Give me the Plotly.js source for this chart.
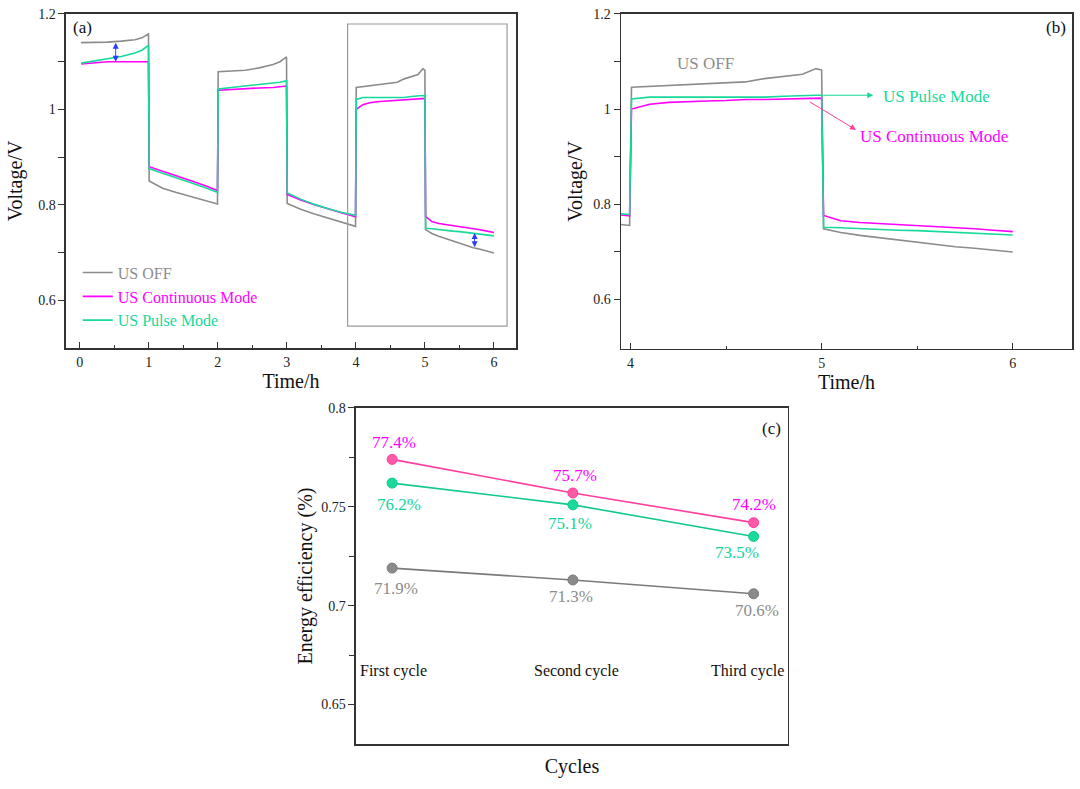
<!DOCTYPE html>
<html>
<head>
<meta charset="utf-8">
<script src="https://cdn.plot.ly/plotly-3.0.1.min.js"></script>
<style>
  html, body { margin: 0; padding: 0; background: #fff; }
  #chart { width: 1080px; height: 789px; }
</style>
</head>
<body>
<div id="chart"></div>
<script>
// voltage curves (a)/(b), hours
const time = [
  0.02, 0.2, 0.4, 0.6, 0.8, 0.9, 0.995,
  1.005, 1.2, 1.4, 1.6, 1.8, 1.995,
  2.005, 2.2, 2.4, 2.6, 2.8, 2.9, 2.995,
  3.005, 3.2, 3.4, 3.6, 3.8, 3.995,
  4.005, 4.1, 4.2, 4.3, 4.4, 4.5, 4.6, 4.7, 4.8, 4.9, 4.97, 5.0,
  5.01, 5.1, 5.2, 5.3, 5.4, 5.5, 5.6, 5.7, 5.8, 5.9, 6.0
];
const voltOff = [
  1.140, 1.140, 1.141, 1.143, 1.146, 1.150, 1.158,
  0.850, 0.835, 0.826, 0.818, 0.811, 0.802,
  1.079, 1.080, 1.082, 1.087, 1.094, 1.100, 1.110,
  0.803, 0.791, 0.781, 0.772, 0.764, 0.755,
  1.046, 1.048, 1.049, 1.052, 1.054, 1.056, 1.057, 1.064, 1.068, 1.073, 1.085, 1.082,
  0.748, 0.740, 0.734, 0.729, 0.724, 0.719, 0.714, 0.710, 0.707, 0.703, 0.699
];
const voltCont = [
  1.095, 1.098, 1.100, 1.100, 1.100, 1.099, 1.100,
  0.880, 0.870, 0.861, 0.851, 0.841, 0.830,
  1.040, 1.042, 1.044, 1.045, 1.046, 1.047, 1.049,
  0.822, 0.810, 0.800, 0.791, 0.783, 0.775,
  1.000, 1.010, 1.014, 1.016, 1.017, 1.018, 1.020, 1.020, 1.021, 1.022, 1.023, 1.023,
  0.776, 0.765, 0.761, 0.759, 0.757, 0.755, 0.752, 0.750, 0.748, 0.745, 0.742
];
const voltPulse = [
  1.097, 1.101, 1.106, 1.111, 1.118, 1.124, 1.134,
  0.876, 0.866, 0.857, 0.847, 0.837, 0.826,
  1.043, 1.046, 1.048, 1.051, 1.055, 1.057, 1.060,
  0.825, 0.812, 0.801, 0.792, 0.784, 0.778,
  1.021, 1.025, 1.025, 1.025, 1.025, 1.025, 1.025, 1.025, 1.027, 1.029, 1.029, 1.029,
  0.751, 0.750, 0.748, 0.747, 0.745, 0.744, 0.742, 0.740, 0.738, 0.736, 0.735
];
const seriesNames = ["US OFF", "US Continuous Mode", "US Pulse Mode"];

// energy efficiency, panel (c)
const cycles = ["First cycle", "Second cycle", "Third cycle"];
const effOff = [0.719, 0.713, 0.706];
const effCont = [0.774, 0.757, 0.742];
const effPulse = [0.762, 0.751, 0.735];

const FONT = "Liberation Serif, Times New Roman, serif";
const GRAY = "#8c8c8c";
const MAGENTA = "#ff00ff";
const GREEN = "#17d99b";
const PINK = "#ff3e9e";
const BLUE = "#2a3cff";
const AXIS = "#333333";

function voltTrace(y, name, color, xa, ya, showlegend) {
  return {
    x: time,
    y: y,
    type: "scatter",
    mode: "lines",
    name: '<span style="color:' + color + '">' + name + "</span>",
    line: { color: color, width: 1.6 },
    xaxis: xa,
    yaxis: ya,
    showlegend: showlegend,
    hoverinfo: "x+y",
  };
}

function effTrace(y, color, lineColor) {
  return {
    x: cycles,
    y: y,
    type: "scatter",
    mode: "lines+markers",
    line: { color: lineColor, width: 1.6 },
    marker: { color: color, size: 10, line: { color: lineColor, width: 1 } },
    xaxis: "x3",
    yaxis: "y3",
    showlegend: false,
  };
}

const data = [
  voltTrace(voltOff, seriesNames[0], GRAY, "x", "y", true),
  voltTrace(voltCont, seriesNames[1], MAGENTA, "x", "y", true),
  voltTrace(voltPulse, seriesNames[2], GREEN, "x", "y", true),
  voltTrace(voltOff, seriesNames[0], GRAY, "x2", "y2", false),
  voltTrace(voltCont, seriesNames[1], MAGENTA, "x2", "y2", false),
  voltTrace(voltPulse, seriesNames[2], GREEN, "x2", "y2", false),
  effTrace(effOff, "#8a8a8a", "#7a7a7a"),
  effTrace(effCont, "#ff5aa8", PINK),
  effTrace(effPulse, "#1bd99a", "#10c98a"),
];

const tickFont = { family: FONT, size: 14, color: "#222" };
const titleFont = { family: FONT, size: 20, color: "#111" };

function frame(extra) {
  return Object.assign({
    showline: true,
    linecolor: AXIS,
    linewidth: 1.5,
    mirror: true,
    showgrid: false,
    zeroline: false,
    tickfont: tickFont,
    tickcolor: AXIS,
    fixedrange: true,
  }, extra);
}

const annotations = [];

function note(text, x, y, xref, yref, color, size, extra) {
  annotations.push(Object.assign({
    text: text, x: x, y: y, xref: xref, yref: yref,
    xanchor: "center", yanchor: "middle",
    showarrow: false,
    font: { family: FONT, size: size, color: color },
  }, extra || {}));
}

function arrow(x, y, ax, ay, xref, yref, color, side) {
  annotations.push({
    text: "", x: x, y: y, ax: ax, ay: ay,
    xref: xref, yref: yref, axref: xref, ayref: yref,
    showarrow: true, arrowcolor: color, arrowwidth: 1,
    arrowhead: 2, arrowsize: 1.2, arrowside: side || "end",
    standoff: 0, startstandoff: 0,
  });
}

// panel labels
note("(a)", 0.036, 0.958, "x domain", "y domain", "#111", 17);
note("(b)", 0.964, 0.961, "x2 domain", "y2 domain", "#111", 17);
note("(c)", 0.963, 0.94, "x3 domain", "y3 domain", "#111", 17);

// gap arrows in (a)
arrow(0.52, voltCont[3], 0.52, voltOff[3], "x", "y", BLUE, "end+start");
arrow(5.72, voltOff[45] + 0.001, 5.72, voltPulse[45] + 0.004, "x", "y", BLUE, "end+start");

// callouts in (b)
note(seriesNames[0], 4.39, 1.096, "x2", "y2", GRAY, 17);
note(seriesNames[2], 5.6, 1.027, "x2", "y2", GREEN, 17);
note(seriesNames[1], 5.59, 0.942, "x2", "y2", MAGENTA, 17);
arrow(5.27, voltPulse[37], 5.0, voltPulse[37], "x2", "y2", GREEN);
arrow(5.18, 0.956, 4.93, 1.017, "x2", "y2", PINK);

// value labels in (c)
const labelShift = {
  cont: [[2, 17], [2, 17], [0, 18]],
  pulse: [[7, -21], [-3, -19], [-17, -16]],
  off: [[4, -20], [-2, -17], [3, -17]],
};
[[effCont, MAGENTA, labelShift.cont], [effPulse, "#14d39a", labelShift.pulse], [effOff, GRAY, labelShift.off]]
  .forEach(([vals, color, shift]) => {
    vals.forEach((v, i) => {
      note((v * 100).toFixed(1) + "%", cycles[i], v, "x3", "y3", color, 17,
        { xshift: shift[i][0], yshift: shift[i][1] });
    });
  });
cycles.forEach((c, i) => {
  note(c, c, 0.667, "x3", "y3", "#111", 16, { xshift: [1, 4, -6][i] });
});

const layout = {
  width: 1080,
  height: 789,
  margin: { l: 0, r: 0, t: 0, b: 0 },
  paper_bgcolor: "#fff",
  plot_bgcolor: "#fff",
  font: { family: FONT },
  showlegend: true,
  legend: {
    x: 0.072, y: 0.676, xanchor: "left", yanchor: "top",
    bgcolor: "rgba(0,0,0,0)",
    font: { family: FONT, size: 16 },
    tracegroupgap: 0,
  },
  xaxis: frame({
    domain: [0.0611, 0.4778], anchor: "y", range: [-0.2, 6.32],
    dtick: 1, ticks: "inside", ticklen: 6,
    minor: { dtick: 0.5, ticks: "inside", ticklen: 3, tickcolor: AXIS },
    ticklabelstandoff: 1,
    title: { text: "Time/h", font: titleFont, standoff: 2 },
  }),
  yaxis: frame({
    domain: [0.5589, 0.9823], anchor: "x", range: [0.5, 1.2],
    tickvals: [0.6, 0.8, 1, 1.2], ticktext: ["0.6", "0.8", "1", "1.2"],
    ticks: "outside", ticklen: 6,
    minor: { tickvals: [0.7, 0.9, 1.1], ticks: "outside", ticklen: 6, tickcolor: AXIS },
    title: { text: "Voltage/V", font: titleFont, standoff: 10 },
  }),
  xaxis2: frame({
    domain: [0.575, 0.9926], anchor: "y2", range: [3.95, 6.31],
    dtick: 1, ticks: "inside", ticklen: 6,
    minor: { dtick: 0.5, ticks: "inside", ticklen: 3, tickcolor: AXIS },
    ticklabelstandoff: 1,
    title: { text: "Time/h", font: titleFont, standoff: 2 },
  }),
  yaxis2: frame({
    domain: [0.5577, 0.9823], anchor: "x2", range: [0.495, 1.2],
    tickvals: [0.6, 0.8, 1, 1.2], ticktext: ["0.6", "0.8", "1", "1.2"],
    ticks: "outside", ticklen: 6,
    minor: { tickvals: [0.7, 0.9, 1.1], ticks: "outside", ticklen: 6, tickcolor: AXIS },
    title: { text: "Voltage/V", font: titleFont, standoff: 5 },
  }),
  xaxis3: frame({
    domain: [0.3296, 0.7296], anchor: "y3", type: "category", range: [-0.2, 2.19],
    ticks: "", showticklabels: false,
    title: { text: "Cycles", font: titleFont, standoff: 14 },
  }),
  yaxis3: frame({
    domain: [0.057, 0.4829], anchor: "x3", range: [0.63, 0.8],
    tickvals: [0.65, 0.7, 0.75, 0.8], ticktext: ["0.65", "0.7", "0.75", "0.8"],
    ticks: "outside", ticklen: 6,
    minor: { tickvals: [0.675, 0.725, 0.775], ticks: "outside", ticklen: 5, tickcolor: AXIS },
    title: { text: "Energy efficiency (%)", font: titleFont, standoff: 3 },
  }),
  shapes: [
    {
      type: "rect", xref: "x", yref: "y",
      x0: 3.88, x1: 6.19, y0: 0.546, y1: 1.179,
      line: { color: "#9a9a9a", width: 1.2 },
    },
  ],
  annotations: annotations,
};

const config = { displayModeBar: false, staticPlot: true };

Plotly.newPlot("chart", data, layout, config);
</script>
</body>
</html>
